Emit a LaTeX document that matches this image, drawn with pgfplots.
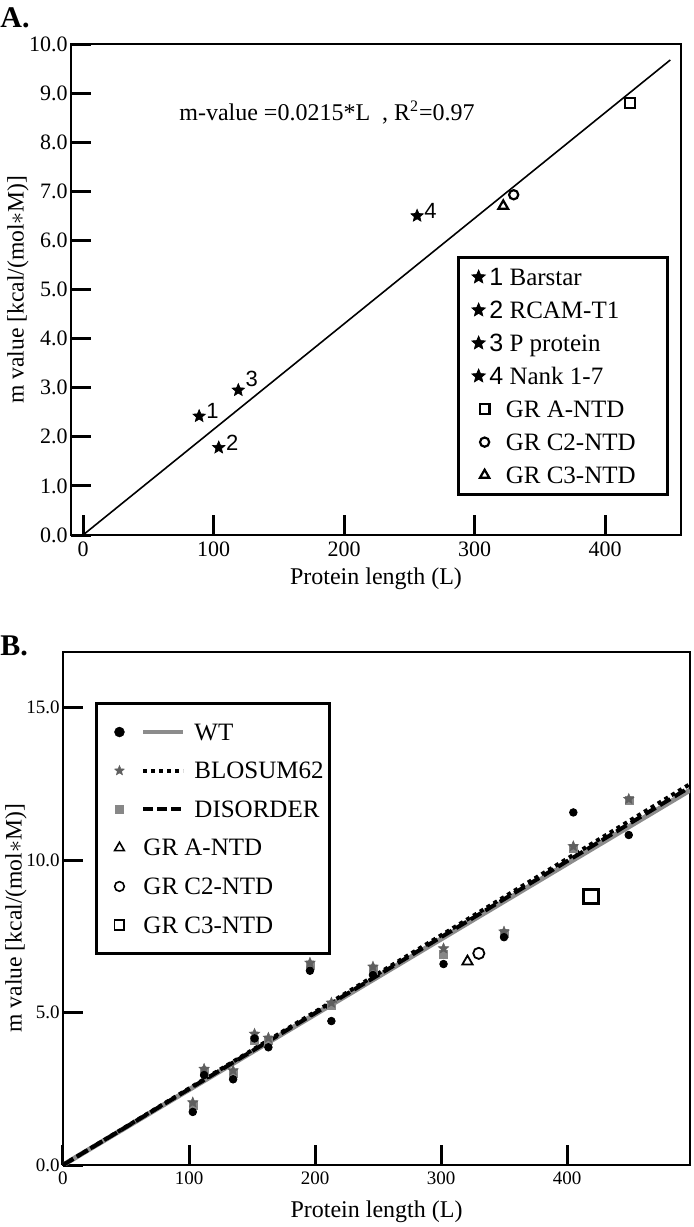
\documentclass[border=0pt]{standalone}
\usepackage{pgfplots}
\pgfplotsset{compat=1.18}
\usepackage{fontspec}
\setmainfont{Liberation Serif}
\newfontfamily\arial{Liberation Sans}
\usetikzlibrary{plotmarks}
\definecolor{wtline}{RGB}{140,140,140}
\definecolor{starc}{RGB}{95,95,95}
\definecolor{sqc}{RGB}{135,135,135}
\pgfdeclareplotmark{fstar}{%
\pgfpathmoveto{\pgfpointpolar{90}{\pgfplotmarksize}}%
\pgfpathlineto{\pgfpointpolar{126}{0.45\pgfplotmarksize}}%
\pgfpathlineto{\pgfpointpolar{162}{\pgfplotmarksize}}%
\pgfpathlineto{\pgfpointpolar{198}{0.45\pgfplotmarksize}}%
\pgfpathlineto{\pgfpointpolar{234}{\pgfplotmarksize}}%
\pgfpathlineto{\pgfpointpolar{270}{0.45\pgfplotmarksize}}%
\pgfpathlineto{\pgfpointpolar{306}{\pgfplotmarksize}}%
\pgfpathlineto{\pgfpointpolar{342}{0.45\pgfplotmarksize}}%
\pgfpathlineto{\pgfpointpolar{18}{\pgfplotmarksize}}%
\pgfpathlineto{\pgfpointpolar{54}{0.45\pgfplotmarksize}}%
\pgfpathclose
\pgfusepathqfillstroke}
\tikzset{ext/.style={draw=none,fill=none}}
\begin{document}
\begin{tikzpicture}
\useasboundingbox (0,0) rectangle (346.5pt,-613.5pt);
\node[anchor=base west, font=\bfseries\fontsize{15}{16}\selectfont, inner sep=0pt] at (0pt,-13.5pt) {A.};
\node[anchor=base west, font=\bfseries\fontsize{15}{16}\selectfont, inner sep=0pt] at (0pt,-327.5pt) {B.};
% ---------------- Panel A ----------------
\begin{axis}[
  at={(35.5pt,-267.5pt)}, anchor=south west, scale only axis,
  width=305pt, height=245.5pt,
  xmin=-9.2, xmax=458.2, ymin=0, ymax=10,
  axis line style={line width=1.3pt},
  tick align=inside, xtick pos=left, ytick pos=left,
  major tick length=10pt, every tick/.style={line width=1.5pt, black},
  xtick={0,100,200,300,400},
  ytick={0,1,2,3,4,5,6,7,8,9,10},
  yticklabels={0.0,1.0,2.0,3.0,4.0,5.0,6.0,7.0,8.0,9.0,10.0},
  /pgf/number format/assume math mode=true,
  ticklabel style={font=\fontsize{11}{12}\selectfont},
  yticklabel style={inner xsep=1.5pt},
  xlabel={Protein length (L)},
  ylabel={m value [kcal/(mol$*$M)]},
  label style={font=\fontsize{12}{14}\selectfont},
  xlabel style={at={(axis description cs:0.5,-0.0896)}, anchor=center},
  ylabel style={at={(axis description cs:-0.0869,0.5)}, anchor=center, inner sep=0pt, font=\fontsize{11.8}{13}\selectfont},
  legend cell align=left,
  legend style={at={(rel axis cs:0.633,0.568)}, anchor=north west, draw=black,
    line width=1.5pt, inner xsep=3pt, inner ysep=4.25pt, row sep=5.5pt, column sep=0pt,
    font=\fontsize{12.5}{14}\selectfont,
    nodes={inner sep=0pt, text height=9.5pt, text depth=1.5pt}},
]
\addplot[black, line width=0.8pt, forget plot] coordinates {(0,0) (450,9.675)};
\addplot[only marks, mark=fstar, mark size=3.3pt, mark options={fill=black, draw=black, line width=0.3pt}, forget plot,
  nodes near coords, point meta=explicit symbolic,
  nodes near coords style={font=\arial\fontsize{11}{12}\selectfont, anchor=west, inner sep=0pt, xshift=3.5pt, yshift=2.5pt, black}]
  coordinates {(89,2.42)[1] (104,1.78)[2] (256,6.5)[4]};
\addplot[only marks, mark=fstar, mark size=3.3pt, mark options={fill=black, draw=black, line width=0.3pt}, forget plot,
  nodes near coords, point meta=explicit symbolic,
  nodes near coords style={font=\arial\fontsize{11}{12}\selectfont, anchor=west, inner sep=0pt, xshift=3.5pt, yshift=5.5pt, black}]
  coordinates {(119,2.95)[3]};
\addplot[only marks, mark=square, mark size=2.5pt, mark options={line width=1.1pt, black}, forget plot] coordinates {(419,8.8)};
\addplot[only marks, mark=o, mark size=2.3pt, mark options={line width=1.1pt, black}, forget plot] coordinates {(330,6.93)};
\addplot[only marks, mark=triangle, mark size=2.8pt, mark options={line width=1.1pt, black}, forget plot] coordinates {(322,6.7)};
\node[font=\fontsize{12}{13}\selectfont] at (axis cs:187,8.6) {m-value =0.0215*L\ \ , R\textsuperscript{2}=0.97};
% legend A
\addlegendimage{legend image code/.code={\path[ext] (0pt,0pt) -- (12.4pt,0pt); \path[draw=black,fill=black,line width=0.3pt] plot[only marks, mark=fstar, mark size=3.6pt] coordinates {(7pt,0pt)};}}
\addlegendentry{{\arial 1} Barstar}
\addlegendimage{legend image code/.code={\path[ext] (0pt,0pt) -- (12.4pt,0pt); \path[draw=black,fill=black,line width=0.3pt] plot[only marks, mark=fstar, mark size=3.6pt] coordinates {(7pt,0pt)};}}
\addlegendentry{{\arial 2} RCAM-T1}
\addlegendimage{legend image code/.code={\path[ext] (0pt,0pt) -- (12.4pt,0pt); \path[draw=black,fill=black,line width=0.3pt] plot[only marks, mark=fstar, mark size=3.6pt] coordinates {(7pt,0pt)};}}
\addlegendentry{{\arial 3} P protein}
\addlegendimage{legend image code/.code={\path[ext] (0pt,0pt) -- (12.4pt,0pt); \path[draw=black,fill=black,line width=0.3pt] plot[only marks, mark=fstar, mark size=3.6pt] coordinates {(7pt,0pt)};}}
\addlegendentry{{\arial 4} Nank 1-7}
\addlegendimage{legend image code/.code={\path[ext] (0pt,0pt) -- (12.4pt,0pt); \path[draw=black,fill=none,line width=1.1pt] plot[only marks, mark=square, mark size=2.4pt] coordinates {(10pt,0pt)};}}
\addlegendentry{\hspace*{8.2pt}GR A-NTD}
\addlegendimage{legend image code/.code={\path[ext] (0pt,0pt) -- (12.4pt,0pt); \path[draw=black,fill=none,line width=1.1pt] plot[only marks, mark=o, mark size=2.3pt] coordinates {(10pt,0pt)};}}
\addlegendentry{\hspace*{8.2pt}GR C2-NTD}
\addlegendimage{legend image code/.code={\path[ext] (0pt,0pt) -- (12.4pt,0pt); \path[draw=black,fill=none,line width=1.1pt] plot[only marks, mark=triangle, mark size=2.7pt] coordinates {(10pt,0pt)};}}
\addlegendentry{\hspace*{8.2pt}GR C3-NTD\hspace*{13pt}}
\end{axis}
% ---------------- Panel B ----------------
\begin{axis}[
  at={(31.5pt,-582.5pt)}, anchor=south west, scale only axis,
  width=313.5pt, height=256.5pt,
  xmin=0, xmax=497.6, ymin=0, ymax=16.82,
  axis line style={line width=1.3pt},
  tick align=inside, xtick pos=left, ytick pos=left,
  major tick length=10pt, every tick/.style={line width=1.5pt, black},
  xtick={0,100,200,300,400},
  ytick={0,5,10,15},
  yticklabels={0.0,5.0,10.0,15.0},
  /pgf/number format/assume math mode=true,
  ticklabel style={font=\fontsize{9.5}{11}\selectfont},
  yticklabel style={inner xsep=1.5pt},
  xlabel={Protein length (L)},
  ylabel={m value [kcal/(mol$*$M)]},
  label style={font=\fontsize{12}{14}\selectfont},
  xlabel style={at={(axis description cs:0.5,-0.0916)}, anchor=center},
  ylabel style={at={(axis description cs:-0.0750,0.481)}, anchor=center, inner sep=0pt, font=\fontsize{11.8}{13}\selectfont},
  legend cell align=left,
  legend style={at={(rel axis cs:0.051,0.9025)}, anchor=north west, draw=black,
    line width=1.5pt, inner xsep=3pt, inner ysep=8.75pt, row sep=8.3pt, column sep=2pt,
    font=\fontsize{12.5}{14}\selectfont,
    nodes={inner sep=0pt, text height=9.5pt, text depth=1.5pt}},
]
\addplot[wtline, line width=2.5pt, forget plot] coordinates {(0,0) (497.6,12.29)};
\addplot[black, line width=2pt, dash pattern=on 2pt off 2pt, forget plot] coordinates {(0,0) (497.6,12.49)};
\addplot[black, line width=2pt, dash pattern=on 6pt off 2.5pt, forget plot] coordinates {(0,0) (497.6,12.39)};
% DISORDER squares
\addplot[only marks, mark=square*, mark size=2pt, mark options={fill=sqc, draw=sqc, line width=0.2pt}, forget plot] coordinates {
(103,1.95) (112,3.05) (135,3.0) (152,4.1) (163,4.1) (196,6.55) (213,5.25) (246,6.4) (302,6.9) (350,7.6) (405,10.4) (449,11.95)};
% BLOSUM62 stars
\addplot[only marks, mark=fstar, mark size=2.8pt, mark options={fill=starc, draw=starc, line width=0.2pt}, forget plot] coordinates {
(103,2.05) (112,3.15) (135,3.1) (152,4.3) (163,4.17) (196,6.63) (213,5.32) (246,6.5) (302,7.1) (350,7.65) (405,10.45) (449,12.0)};
% WT circles
\addplot[only marks, mark=*, mark size=1.9pt, mark options={fill=black, draw=black}, forget plot] coordinates {
(103,1.74) (112,2.95) (135,2.81) (152,4.15) (163,3.86) (196,6.37) (213,4.72) (246,6.23) (302,6.59) (350,7.47) (405,11.56) (449,10.82)};
% GR constructs
\addplot[only marks, mark=triangle, mark size=3pt, mark options={line width=0.9pt, black}, forget plot] coordinates {(321,6.67)};
\addplot[only marks, mark=o, mark size=2.8pt, mark options={line width=0.9pt, black}, forget plot] coordinates {(330,6.94)};
\addplot[only marks, mark=square, mark size=3.6pt, mark options={line width=1.4pt, black}, forget plot] coordinates {(419,8.8)};
% legend B
\addlegendimage{legend image code/.code={\path[ext] (0pt,0pt) -- (44pt,0pt); \path[fill=black,draw=black,line width=0.2pt] plot[only marks, mark=*, mark size=2.5pt] coordinates {(8.5pt,0pt)}; \draw[wtline, line width=2pt] (20.5pt,0pt) -- (40.5pt,0pt);}}
\addlegendentry{WT}
\addlegendimage{legend image code/.code={\path[ext] (0pt,0pt) -- (44pt,0pt); \path[fill=starc,draw=starc,line width=0.2pt] plot[only marks, mark=fstar, mark size=2.6pt] coordinates {(8.5pt,0pt)}; \draw[black, line width=2pt, dash pattern=on 2pt off 2pt] (20.5pt,0pt) -- (40.5pt,0pt);}}
\addlegendentry{BLOSUM62}
\addlegendimage{legend image code/.code={\path[ext] (0pt,0pt) -- (44pt,0pt); \path[fill=sqc,draw=sqc,line width=0.2pt] plot[only marks, mark=square*, mark size=2pt] coordinates {(8.5pt,0pt)}; \draw[black, line width=2pt, dash pattern=on 5pt off 2pt] (20.5pt,0pt) -- (40.5pt,0pt);}}
\addlegendentry{DISORDER}
\addlegendimage{legend image code/.code={\path[ext] (0pt,0pt) -- (44pt,0pt); \path[draw=black,fill=none,line width=0.8pt] plot[only marks, mark=triangle, mark size=2.8pt] coordinates {(8.5pt,0pt)};}}
\addlegendentry{\hspace*{-25.5pt}GR A-NTD}
\addlegendimage{legend image code/.code={\path[ext] (0pt,0pt) -- (44pt,0pt); \path[draw=black,fill=none,line width=0.8pt] plot[only marks, mark=o, mark size=2.4pt] coordinates {(8.5pt,0pt)};}}
\addlegendentry{\hspace*{-25.5pt}GR C2-NTD}
\addlegendimage{legend image code/.code={\path[ext] (0pt,0pt) -- (44pt,0pt); \path[draw=black,fill=none,line width=0.8pt] plot[only marks, mark=square, mark size=2.4pt] coordinates {(8.5pt,0pt)};}}
\addlegendentry{\hspace*{-25.5pt}GR C3-NTD}
\end{axis}
\end{tikzpicture}
\end{document}
